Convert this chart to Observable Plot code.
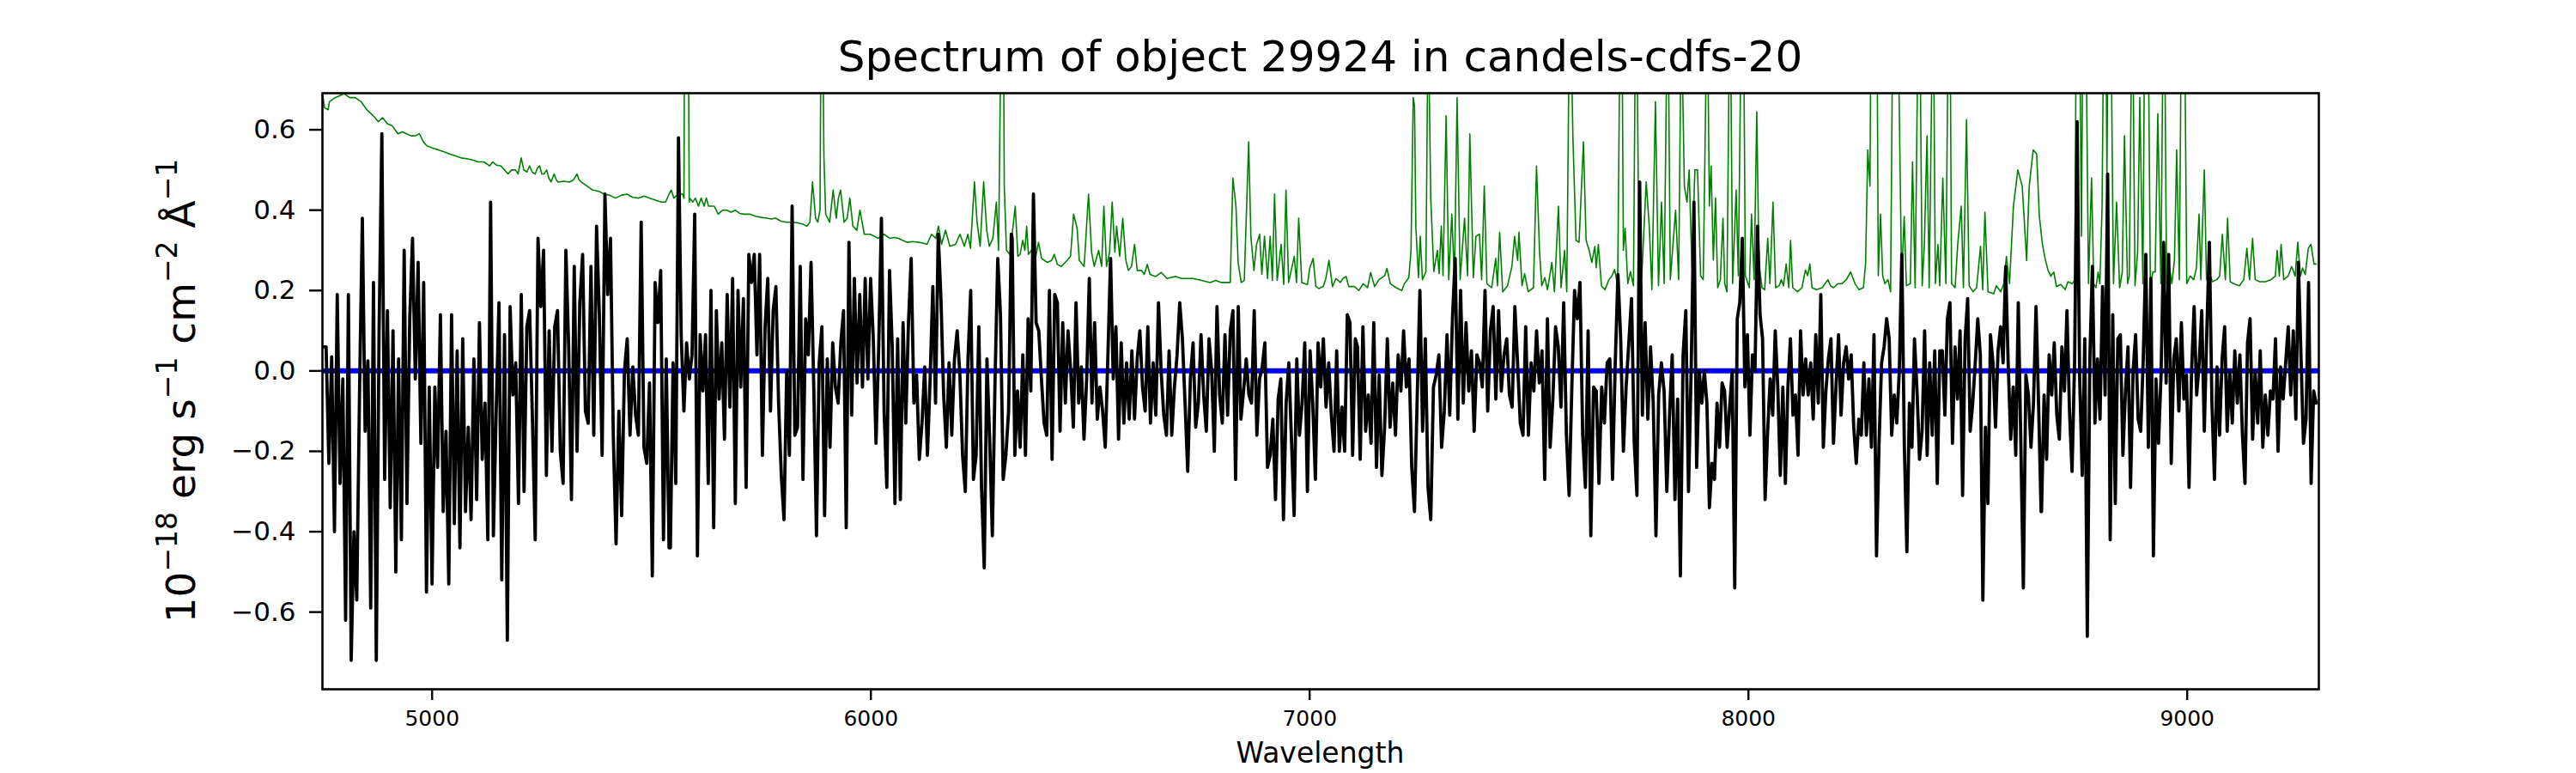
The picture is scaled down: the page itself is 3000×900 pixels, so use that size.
<!DOCTYPE html>
<html>
<head>
<meta charset="utf-8">
<script src="https://cdn.jsdelivr.net/npm/d3@7"></script>
<script src="https://cdn.jsdelivr.net/npm/@observablehq/plot@0.6"></script>
<style>
  html, body { margin: 0; padding: 0; background: #ffffff; }
  #chart { width: 3000px; height: 900px; }
</style>
</head>
<body>
<div id="chart"></div>
<script>
// ---------- text ----------
const titleText = "Spectrum of object 29924 in candels-cdfs-20";
const xLabelText = "Wavelength";

// ---------- axes ----------
const xTicks = [5000, 6000, 7000, 8000, 9000];
const yTicks = [-0.6, -0.4, -0.2, 0.0, 0.2, 0.4, 0.6];
const xDomain = [4750, 9300];
const yDomain = [-0.792, 0.691];

// ---------- observed flux (black), uniform wavelength sampling per segment ----------
const segStart = [4752, 5543, 6322, 7109, 7888, 8668];
const segEnd   = [5540, 6320, 7104, 7882, 8667, 9294];

const flux1 = [0.06,0.06,-0.23,0.035,-0.40,0.19,-0.28,-0.02,-0.62,0.19,-0.72,-0.40,-0.57,-0.05,0.38,-0.15,0.025,-0.59,0.22,-0.72,0.10,0.59,-0.27,0.15,-0.34,0.10,-0.50,0.03,-0.42,0.30,-0.33,0.13,0.33,-0.02,0.27,-0.18,0.22,-0.55,-0.04,-0.53,-0.04,-0.24,0.14,-0.35,-0.15,-0.53,0.14,-0.38,0.05,-0.44,0.08,-0.35,-0.14,-0.37,0.03,-0.32,0.12,-0.22,-0.08,-0.42,0.42,-0.41,-0.10,0.17,-0.52,0.09,-0.67,0.16,-0.06,0.02,-0.33,0.19,-0.30,0.11,0.15,-0.12,-0.42,0.33,0.16,0.30,-0.26,0.10,-0.20,0.11,0.15,-0.20,-0.28,0.30,0.06,-0.32,0.26,-0.20,0.17,0.29,-0.10,-0.13,0.26,-0.16,0.36,0.14,-0.21,0.44,0.19,0.33,-0.16,-0.43,-0.10,-0.36,0.0,0.08,-0.16,0.01,-0.11,-0.16,0.37,-0.19,-0.23,-0.03,-0.51,0.22,0.12,0.25,-0.42,0.03,-0.44];

const flux2 = [-0.44,0.02,-0.28,0.58,0.09,-0.10,0.07,-0.02,0.04,0.39,-0.46,0.09,-0.05,0.09,-0.28,0.20,-0.39,0.15,-0.07,0.07,-0.17,0.19,-0.09,0.23,-0.33,0.20,-0.04,0.18,-0.29,0.29,0.22,0.29,0.04,0.29,-0.21,0.11,0.23,-0.10,0.15,0.21,-0.08,-0.26,-0.37,0.0,-0.21,0.41,-0.16,-0.14,0.26,-0.27,0.13,0.04,0.27,-0.04,-0.41,0.02,0.11,-0.36,0.03,-0.19,0.07,-0.04,-0.08,0.07,0.15,-0.39,0.32,-0.11,0.23,-0.03,0.19,-0.04,0.23,-0.02,0.23,0.08,-0.18,0.06,0.38,-0.10,-0.29,0.25,0.06,-0.33,0.08,-0.32,0.12,-0.13,0.12,0.28,-0.08,-0.01,-0.22,-0.13,0.01,-0.21,-0.02,0.21,-0.08,0.34,0.18,-0.06,-0.19,0.02,-0.16,0.03,0.10,-0.01,-0.21,-0.30,0.03,0.20,-0.27,-0.21,0.11,-0.29,-0.49,0.03,-0.17,-0.41,-0.02,0.28,0.14,-0.27,-0.21,-0.10,0.34];

const flux3 = [0.33,-0.21,-0.05,-0.19,0.04,-0.21,0.13,-0.05,0.44,0.12,0.10,-0.02,-0.13,-0.16,0.20,-0.22,0.19,0.17,-0.15,0.12,-0.08,0.10,0.0,-0.14,0.17,-0.08,0.01,-0.17,-0.02,0.23,-0.08,0.12,-0.12,-0.04,-0.10,-0.19,0.04,0.28,-0.02,0.11,-0.17,0.07,-0.13,0.02,-0.12,0.05,-0.12,0.03,0.10,-0.04,-0.10,0.11,-0.13,0.02,-0.11,0.17,0.0,-0.11,-0.16,0.05,-0.16,-0.04,0.04,0.17,0.08,-0.08,-0.25,-0.02,0.07,-0.14,-0.08,0.09,-0.06,-0.15,0.08,0.0,-0.20,0.16,-0.06,-0.13,0.09,-0.11,0.10,0.15,-0.27,0.16,-0.12,-0.05,0.03,-0.06,-0.08,0.15,-0.16,-0.02,0.01,0.07,-0.24,-0.21,-0.12,-0.32,-0.07,-0.02,-0.37,-0.08,0.02,-0.17,-0.36,0.03,-0.16,-0.08,0.07,-0.30,0.05,-0.08,-0.27,0.07,-0.04,0.08,-0.09,0.02,-0.11,-0.20,0.05,-0.20,-0.09,-0.20,0.14,0.12,-0.21,0.08];

const flux4 = [0.06,-0.22,0.11,-0.15,-0.06,-0.18,0.12,-0.24,-0.01,-0.26,-0.14,0.08,-0.14,-0.03,-0.16,0.04,-0.05,0.10,-0.04,0.03,-0.24,-0.35,-0.07,0.20,-0.15,0.08,-0.29,-0.37,-0.04,-0.01,0.04,-0.19,-0.10,0.09,-0.11,0.13,0.28,-0.12,0.20,-0.08,0.12,-0.05,0.05,-0.15,0.04,0.02,-0.04,0.20,-0.10,0.10,0.16,-0.07,0.15,-0.05,0.04,0.08,-0.06,-0.09,0.16,0.02,-0.13,-0.16,0.11,-0.16,0.02,-0.05,0.10,-0.03,0.05,-0.27,0.13,-0.19,-0.07,0.11,0.06,-0.09,0.17,-0.16,-0.31,-0.04,0.20,0.13,0.22,-0.16,-0.29,0.10,-0.41,-0.04,-0.05,-0.28,-0.04,-0.13,0.02,0.03,-0.27,0.02,0.24,0.08,-0.20,-0.04,0.07,0.18,-0.18,-0.31,0.47,-0.11,0.12,-0.12,0.06,-0.08,-0.41,-0.06,0.02,-0.05,-0.30,-0.11,0.04,-0.32,-0.07,-0.51,0.04,0.15,-0.30,0.01,0.42,-0.24];

const flux5 = [0.0,-0.08,0.0,-0.08,-0.34,-0.23,-0.27,-0.08,-0.19,-0.03,-0.05,-0.19,-0.09,0.0,-0.54,0.13,0.17,0.33,-0.04,0.09,-0.16,0.04,0.0,0.36,0.14,0.08,-0.32,-0.15,-0.02,-0.11,0.10,-0.04,-0.26,-0.04,-0.28,-0.04,0.08,-0.11,-0.06,-0.21,0.10,-0.06,0.03,-0.06,0.02,-0.12,0.09,-0.08,0.19,-0.19,-0.05,0.03,0.08,-0.18,-0.04,0.09,-0.11,0.02,0.06,-0.02,0.04,-0.14,-0.23,-0.12,-0.16,0.02,-0.16,-0.02,-0.19,0.09,-0.46,-0.18,0.02,0.06,0.13,0.08,-0.16,-0.06,-0.13,0.0,0.29,-0.19,-0.45,-0.08,-0.19,0.08,-0.05,-0.22,-0.15,0.10,-0.21,0.02,-0.16,0.05,-0.28,0.05,0.05,-0.11,0.13,0.17,-0.18,0.06,-0.07,0.10,-0.31,0.08,0.18,-0.15,-0.08,0.02,0.13,0.04,-0.57,-0.14,-0.33,0.09,0.02,-0.14,0.05,0.11,0.02,0.26,0.02,-0.17,-0.04,-0.21,0.17,-0.18,-0.54,-0.01,-0.06,-0.19,-0.08,0.16,-0.08,-0.35];

const flux6 = [-0.35,-0.06,-0.22,0.04,-0.06,0.07,-0.11,-0.17,0.06,-0.05,0.15,-0.10,-0.25,0.02,0.62,-0.02,-0.26,0.08,-0.66,0.03,0.26,-0.13,0.03,-0.12,0.21,-0.06,0.49,-0.42,0.14,-0.33,0.08,0.09,-0.21,-0.05,0.06,-0.29,0.0,0.09,-0.12,-0.15,0.03,0.29,-0.19,0.23,-0.46,-0.02,-0.18,-0.01,0.32,-0.03,0.29,-0.23,0.03,0.08,-0.10,0.12,-0.07,-0.01,-0.29,0.0,0.16,-0.06,0.02,0.15,-0.15,0.10,0.32,-0.08,-0.27,0.01,-0.16,0.03,0.11,-0.15,0.0,-0.13,0.05,-0.08,0.04,-0.16,-0.28,0.07,0.13,-0.17,0.0,-0.13,0.05,-0.19,-0.06,-0.16,-0.05,-0.07,0.08,-0.20,0.01,-0.07,0.02,0.11,-0.06,0.10,-0.12,0.27,0.04,-0.18,-0.12,0.22,-0.28,-0.05,-0.08];

// ---------- sky / noise spectrum (green): [wavelength, flux] ----------
const sky1 = [[4750,0.69],[4755,0.655],[4763,0.65],[4766,0.67],[4779,0.68],[4790,0.685],[4799,0.69],[4812,0.68],[4825,0.68],[4838,0.67],[4851,0.65],[4861,0.64],[4870,0.63],[4877,0.62],[4887,0.63],[4898,0.615],[4909,0.61],[4922,0.59],[4932,0.595],[4942,0.59],[4952,0.585],[4962,0.585],[4971,0.59],[4980,0.57],[4988,0.56],[5000,0.555],[5014,0.55],[5027,0.545],[5040,0.54],[5053,0.535],[5066,0.53],[5079,0.528],[5092,0.525],[5105,0.52],[5118,0.52],[5131,0.51],[5138,0.52],[5147,0.512],[5157,0.51],[5165,0.50],[5173,0.49],[5181,0.50],[5190,0.50],[5196,0.49],[5203,0.53],[5209,0.50],[5216,0.495],[5222,0.51],[5228,0.495],[5235,0.49],[5240,0.505],[5245,0.51],[5250,0.49],[5255,0.49],[5261,0.50],[5266,0.48],[5271,0.47],[5278,0.49],[5283,0.475],[5287,0.47],[5300,0.472],[5313,0.47],[5322,0.475],[5330,0.49],[5335,0.475],[5340,0.47],[5353,0.46],[5366,0.45],[5380,0.447],[5392,0.44],[5405,0.437],[5418,0.43],[5431,0.437],[5444,0.44],[5457,0.432],[5470,0.43],[5483,0.435],[5496,0.43],[5509,0.425],[5522,0.42],[5532,0.42],[5540,0.44]];

const sky2 = [[5545,0.45],[5551,0.43],[5561,0.44],[5571,0.44],[5574,0.43],[5577,1.5],[5580,1.2],[5583,1.1],[5586,0.42],[5587,0.43],[5594,0.42],[5600,0.43],[5607,0.41],[5613,0.43],[5620,0.41],[5625,0.43],[5630,0.41],[5643,0.41],[5652,0.39],[5662,0.40],[5672,0.40],[5681,0.395],[5691,0.40],[5701,0.392],[5711,0.39],[5724,0.39],[5737,0.385],[5750,0.382],[5763,0.38],[5773,0.378],[5783,0.38],[5796,0.372],[5809,0.37],[5822,0.37],[5835,0.368],[5845,0.365],[5854,0.36],[5861,0.37],[5867,0.47],[5874,0.38],[5879,0.37],[5884,0.40],[5887,1.0],[5890,0.9],[5893,0.53],[5897,0.39],[5906,0.37],[5914,0.45],[5921,0.38],[5926,0.43],[5931,0.45],[5939,0.37],[5946,0.38],[5952,0.43],[5959,0.36],[5968,0.35],[5975,0.40],[5985,0.34],[5998,0.34],[6008,0.335],[6017,0.33],[6030,0.34],[6043,0.33],[6053,0.332],[6063,0.33],[6072,0.325],[6082,0.32],[6095,0.322],[6109,0.32],[6118,0.318],[6128,0.315],[6138,0.34],[6148,0.33],[6154,0.36],[6161,0.315],[6170,0.35],[6180,0.31],[6193,0.315],[6203,0.34],[6213,0.31],[6221,0.34],[6227,0.305],[6236,0.47],[6242,0.37],[6249,0.31],[6257,0.47],[6264,0.35],[6270,0.31],[6278,0.33],[6286,0.42],[6291,0.30],[6296,0.8],[6299,1.3],[6302,0.9]];

const sky3 = [[6304,0.46],[6309,0.30],[6317,0.29],[6329,0.41],[6335,0.285],[6340,0.29],[6346,0.325],[6351,0.30],[6355,0.36],[6359,0.29],[6369,0.305],[6376,0.285],[6382,0.32],[6389,0.28],[6402,0.27],[6412,0.275],[6418,0.29],[6425,0.265],[6434,0.26],[6447,0.275],[6455,0.285],[6462,0.39],[6470,0.355],[6475,0.275],[6486,0.26],[6496,0.44],[6503,0.295],[6509,0.26],[6519,0.30],[6526,0.26],[6531,0.41],[6537,0.26],[6544,0.295],[6550,0.42],[6556,0.295],[6560,0.36],[6567,0.285],[6574,0.38],[6581,0.275],[6587,0.25],[6594,0.26],[6601,0.315],[6607,0.25],[6617,0.25],[6623,0.24],[6630,0.265],[6636,0.24],[6649,0.235],[6662,0.245],[6675,0.23],[6695,0.235],[6708,0.23],[6721,0.23],[6734,0.23],[6754,0.225],[6773,0.22],[6786,0.225],[6799,0.22],[6819,0.22],[6825,0.48],[6832,0.41],[6837,0.27],[6844,0.22],[6851,0.225],[6861,0.57],[6866,0.335],[6873,0.25],[6879,0.315],[6886,0.34],[6891,0.24],[6897,0.335],[6904,0.23],[6910,0.335],[6915,0.225],[6920,0.44],[6926,0.225],[6935,0.315],[6941,0.215],[6946,0.45],[6952,0.22],[6965,0.285],[6970,0.22],[6975,0.38],[6982,0.22],[6995,0.215],[7000,0.255],[7008,0.28],[7014,0.21],[7021,0.205],[7031,0.21],[7037,0.23],[7044,0.275],[7052,0.21],[7060,0.23],[7070,0.22],[7076,0.23],[7083,0.235],[7089,0.21],[7102,0.21]];

const sky4 = [[7112,0.20],[7122,0.217],[7132,0.207],[7139,0.245],[7148,0.21],[7158,0.227],[7171,0.237],[7176,0.255],[7184,0.217],[7197,0.207],[7210,0.20],[7216,0.217],[7226,0.232],[7231,0.30],[7236,0.68],[7239,0.66],[7242,0.36],[7248,0.232],[7252,0.335],[7257,0.227],[7265,0.247],[7270,0.9],[7276,0.43],[7283,0.247],[7291,0.30],[7295,0.242],[7300,0.36],[7304,0.237],[7311,0.635],[7317,0.227],[7324,0.39],[7330,0.227],[7336,0.68],[7343,0.227],[7353,0.38],[7360,0.237],[7365,0.59],[7373,0.232],[7379,0.335],[7387,0.34],[7392,0.227],[7398,0.46],[7404,0.217],[7415,0.207],[7424,0.28],[7428,0.212],[7433,0.345],[7440,0.197],[7451,0.212],[7461,0.26],[7467,0.335],[7474,0.275],[7477,0.345],[7484,0.212],[7490,0.242],[7498,0.197],[7510,0.207],[7517,0.51],[7524,0.295],[7529,0.212],[7536,0.232],[7542,0.202],[7552,0.27],[7558,0.197],[7567,0.41],[7573,0.207],[7581,0.30],[7586,0.197],[7593,1.0],[7600,0.58],[7607,0.325],[7614,0.32],[7624,0.57],[7630,0.325],[7637,0.30],[7643,0.27],[7650,0.31],[7653,0.257],[7658,0.315],[7665,0.212],[7673,0.202],[7682,0.227],[7689,0.237],[7695,0.252],[7702,0.212],[7710,1.2],[7715,0.30],[7719,0.355],[7725,0.217],[7731,0.247],[7738,0.212],[7744,1.1],[7751,0.202],[7757,0.237],[7767,0.47],[7774,0.36],[7780,0.202],[7788,0.67],[7795,0.212],[7802,0.42],[7808,0.217],[7816,1.0],[7822,0.227],[7834,0.40],[7841,0.227],[7847,0.9],[7854,0.46],[7860,0.42],[7865,0.50],[7871,0.26],[7878,0.50]];

const sky5 = [[7884,0.50],[7891,0.237],[7897,0.227],[7906,0.95],[7911,0.41],[7915,0.51],[7920,0.276],[7925,0.43],[7930,0.207],[7936,0.227],[7942,0.38],[7946,0.217],[7951,0.197],[7958,1.0],[7964,0.217],[7972,0.45],[7977,0.237],[7987,1.2],[7993,0.237],[8002,0.207],[8007,0.39],[8013,0.227],[8019,0.645],[8024,0.266],[8031,0.207],[8037,0.202],[8044,0.33],[8049,0.217],[8056,0.42],[8062,0.207],[8070,0.212],[8075,0.227],[8080,0.212],[8086,0.266],[8092,0.207],[8096,0.325],[8101,0.207],[8112,0.197],[8122,0.207],[8130,0.251],[8135,0.237],[8140,0.266],[8145,0.207],[8155,0.202],[8168,0.207],[8181,0.227],[8187,0.212],[8194,0.207],[8204,0.217],[8213,0.217],[8223,0.227],[8233,0.246],[8243,0.217],[8252,0.202],[8262,0.207],[8267,0.266],[8272,0.55],[8277,0.46],[8281,1.2],[8286,0.9],[8292,1.1],[8296,0.237],[8301,0.39],[8306,0.237],[8311,0.217],[8318,0.227],[8324,0.197],[8332,1.3],[8339,1.0],[8344,0.64],[8349,0.227],[8355,0.384],[8360,0.212],[8369,0.217],[8374,0.52],[8380,0.207],[8389,1.1],[8396,0.212],[8401,0.315],[8407,0.585],[8412,0.207],[8421,1.0],[8426,0.217],[8432,0.315],[8436,0.212],[8443,0.48],[8450,0.217],[8458,1.2],[8463,0.217],[8471,0.207],[8477,0.315],[8485,0.41],[8490,0.207],[8497,0.625],[8503,0.212],[8512,0.197],[8520,0.207],[8529,0.31],[8534,0.202],[8539,0.395],[8546,0.197],[8559,0.192],[8565,0.212],[8575,0.197],[8582,0.217],[8588,0.285],[8595,0.217],[8604,0.41],[8614,0.50],[8624,0.46],[8634,0.275],[8640,0.46],[8649,0.55],[8657,0.54]];

const sky6 = [[8663,0.385],[8670,0.315],[8676,0.28],[8683,0.25],[8689,0.236],[8696,0.246],[8702,0.21],[8712,0.215],[8722,0.202],[8728,0.222],[8738,0.217],[8744,0.227],[8748,1.1],[8754,1.0],[8759,0.335],[8764,1.2],[8769,0.9],[8775,0.217],[8782,0.48],[8787,0.217],[8792,0.207],[8797,0.246],[8801,0.217],[8806,0.41],[8813,1.3],[8817,0.47],[8821,1.1],[8826,0.9],[8832,0.217],[8839,0.42],[8846,0.207],[8852,0.246],[8857,0.585],[8864,0.217],[8868,0.236],[8875,1.0],[8881,0.212],[8887,0.295],[8892,0.68],[8899,0.217],[8905,1.2],[8911,0.9],[8916,0.217],[8922,0.246],[8927,0.246],[8933,0.64],[8940,0.217],[8947,1.1],[8953,0.217],[8960,0.256],[8965,0.217],[8971,0.276],[8976,0.55],[8982,0.227],[8989,1.2],[8994,0.9],[8999,0.217],[9007,0.236],[9015,0.227],[9021,0.256],[9027,0.39],[9031,0.227],[9039,0.50],[9044,0.227],[9051,0.246],[9057,0.222],[9067,0.227],[9074,0.236],[9080,0.34],[9087,0.227],[9092,0.38],[9098,0.222],[9106,0.217],[9119,0.212],[9129,0.227],[9136,0.305],[9142,0.227],[9149,0.33],[9155,0.227],[9165,0.222],[9178,0.222],[9191,0.227],[9201,0.236],[9205,0.30],[9210,0.236],[9214,0.315],[9220,0.227],[9230,0.236],[9238,0.26],[9246,0.236],[9252,0.32],[9258,0.236],[9263,0.256],[9269,0.24],[9276,0.305],[9282,0.315],[9289,0.266],[9294,0.266]];

// ---------- model / zero level (blue) ----------
const modelLevel = [0.0];

// ---------- build tables ----------
const fluxSegments = [flux1, flux2, flux3, flux4, flux5, flux6];
const blackData = [];
fluxSegments.forEach((arr, k) => {
  const step = (segEnd[k] - segStart[k]) / (arr.length - 1);
  arr.forEach((v, i) => blackData.push({ w: segStart[k] + i * step, f: v }));
});
const skyData = [...sky1, ...sky2, ...sky3, ...sky4, ...sky5, ...sky6].map(([w, f]) => ({ w, f }));

const fmtY = d => (d < 0 ? "\u2212" : "") + Math.abs(d).toFixed(1);

const mL = 375, mR = 300, mT = 108, mB = 98, W = 3000, H = 900;

const plot = Plot.plot({
  width: W, height: H,
  marginLeft: mL, marginRight: mR, marginTop: mT, marginBottom: mB,
  style: { fontFamily: "'DejaVu Sans', sans-serif", background: "white", color: "black", overflow: "visible" },
  x: { domain: xDomain },
  y: { domain: yDomain },
  marks: [
    Plot.line(skyData, { x: "w", y: "f", stroke: "#008000", strokeWidth: 1.6, clip: true }),
    Plot.ruleY(modelLevel, { stroke: "#0000ff", strokeWidth: 6 }),
    Plot.line(blackData, { x: "w", y: "f", stroke: "black", strokeWidth: 3.8, clip: true, strokeLinejoin: "round" }),
    Plot.frame({ stroke: "black", strokeWidth: 2.6 }),
    Plot.axisX({ ticks: xTicks, tickFormat: d => String(d), tickSize: 13, tickPadding: 12, fontSize: 25, label: null, strokeWidth: 2.4 }),
    Plot.axisY({ ticks: yTicks, tickFormat: fmtY, tickSize: 15, tickPadding: 16, fontSize: 31, label: null, strokeWidth: 2.4 })
  ]
});

document.getElementById("chart").appendChild(plot);

// ---------- titles and axis labels (real SVG text) ----------
const svg = d3.select(plot);
const cx = mL + (W - mL - mR) / 2;
const cy = mT + (H - mT - mB) / 2;

svg.append("text")
  .attr("x", cx).attr("y", 83)
  .attr("text-anchor", "middle")
  .attr("font-family", "'DejaVu Sans', sans-serif")
  .attr("font-size", 50)
  .attr("fill", "black")
  .text(titleText);

svg.append("text")
  .attr("x", cx).attr("y", 888)
  .attr("text-anchor", "middle")
  .attr("font-family", "'DejaVu Sans', sans-serif")
  .attr("font-size", 33)
  .attr("fill", "black")
  .text(xLabelText);

const yl = svg.append("text")
  .attr("transform", `translate(227,${cy}) rotate(-90)`)
  .attr("text-anchor", "middle")
  .attr("font-family", "'DejaVu Sans', sans-serif")
  .attr("font-size", 47)
  .attr("fill", "black")
  .attr("xml:space", "preserve");
const yParts = [["10", false], ["\u221218", true], [" erg s", false], ["\u22121", true], [" cm", false], ["\u22122", true], [" \u00C5", false], ["\u22121", true]];
let raised = false;
yParts.forEach(([t, sup]) => {
  const ts = yl.append("tspan").text(t);
  if (sup && !raised) { ts.attr("dy", -21).attr("font-size", 33); raised = true; }
  else if (sup) { ts.attr("font-size", 33); }
  else if (!sup && raised) { ts.attr("dy", 21); raised = false; }
});
</script>
</body>
</html>
